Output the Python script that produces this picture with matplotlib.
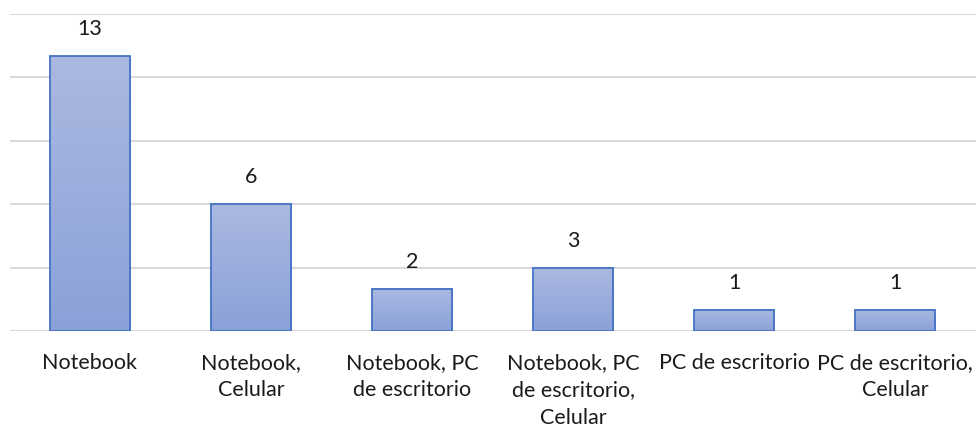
import numpy as np
import matplotlib.pyplot as plt
from matplotlib.colors import LinearSegmentedColormap

categories = ["Notebook", "Notebook,\nCelular", "Notebook, PC\nde escritorio",
              "Notebook, PC\nde escritorio,\nCelular", "PC de escritorio",
              "PC de escritorio,\nCelular"]
values = [13, 6, 2, 3, 1, 1]
yticks = [0, 3, 6, 9, 12, 15]

plt.rcParams['font.family'] = ['Lato', 'DejaVu Sans']

fig = plt.figure(figsize=(9.76, 4.29), dpi=100)
ax = fig.add_axes([9.5 / 976, 1 - 331 / 429, 966 / 976, (331 - 14) / 429])

x = np.arange(len(categories))
width = 0.5

# gradient fill: lighter at top, darker at bottom
cmap = LinearSegmentedColormap.from_list("g", ["#8aa1d8", "#abb9e1"])
grad = np.linspace(0, 1, 256).reshape(-1, 1)
bars = ax.bar(x, values, width, facecolor="none", edgecolor="#4472c4",
              linewidth=1.3, zorder=3)
for b in bars:
    x0, y0 = b.get_x(), b.get_y()
    ax.imshow(grad, cmap=cmap, origin="lower", aspect="auto",
              extent=[x0, x0 + b.get_width(), y0, y0 + b.get_height()],
              zorder=2)
ax.set_xlim(-0.5, len(categories) - 0.5)
ax.set_ylim(0, 15)

for xi, v in zip(x, values):
    ax.text(xi, v + 1.28, str(v), ha="center", va="center", fontsize=15.5,
            color="#1a1a1a")

ax.set_yticks(yticks)
ax.yaxis.grid(True, color="#d9d9d9", linewidth=1.5, zorder=0)
ax.tick_params(axis="y", left=False, labelleft=False)
ax.tick_params(axis="x", bottom=False, pad=12.5)
ax.set_xticks(x)
ax.set_xticklabels(categories, fontsize=15.5, color="#1a1a1a", linespacing=1.45)
for s in ax.spines.values():
    s.set_visible(False)

fig.savefig("out.png", dpi=100)
